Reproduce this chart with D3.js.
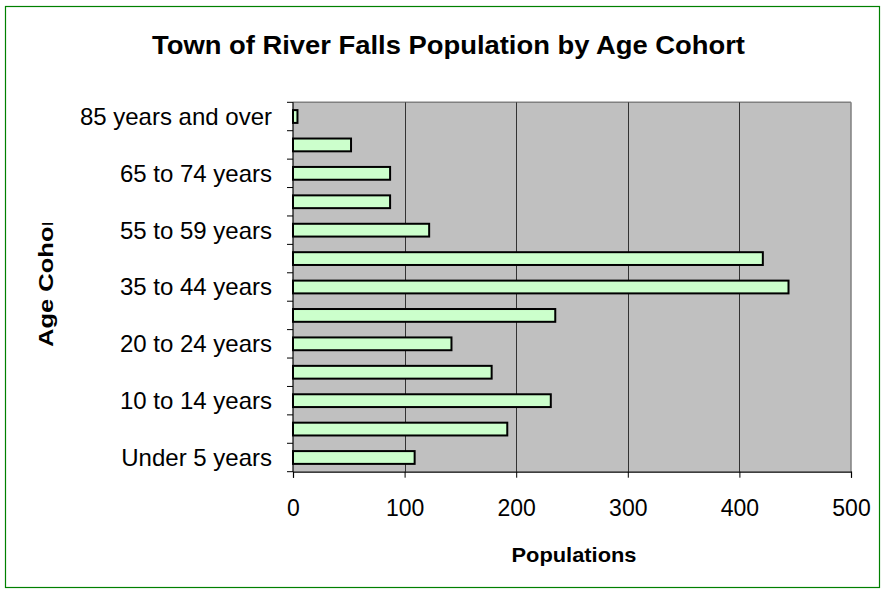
<!DOCTYPE html>
<html><head><meta charset="utf-8">
<script src="https://cdn.jsdelivr.net/npm/d3@7"></script>
<style>body{margin:0;background:#fff}svg{display:block}text{font-family:"Liberation Sans",Arial,sans-serif}</style>
</head><body><svg id="c" width="885" height="593"></svg>
<script>
const categories = ["Under 5 years","5 to 9 years","10 to 14 years","15 to 19 years","20 to 24 years","25 to 34 years","35 to 44 years","45 to 54 years","55 to 59 years","60 to 64 years","65 to 74 years","75 to 84 years","85 years and over"];
const values = [109,192,231,178,142,235,444,421,122,87,87,52,4];
const xTicks = [0,100,200,300,400,500];
const shownLabels = ["Under 5 years","10 to 14 years","20 to 24 years","35 to 44 years","55 to 59 years","65 to 74 years","85 years and over"];

const svg = d3.select("#c");
svg.append("rect").attr("x",5.5).attr("y",6.5).attr("width",874).attr("height",581)
  .attr("fill","#fff").attr("stroke","#008000").attr("stroke-width",1.2);

const L=293,R=851,T=102.3,B=471.7;
const x = d3.scaleLinear().domain([0,500]).range([L,R]);
const y = d3.scaleBand().domain(categories.slice().reverse()).range([T,B]).paddingInner(0.55).paddingOuter(0.275);

svg.append("rect").attr("x",L).attr("y",T).attr("width",R-L).attr("height",B-T).attr("fill","#c0c0c0");
svg.append("line").attr("x1",L).attr("x2",R).attr("y1",T).attr("y2",T).attr("stroke","#808080").attr("stroke-width",1.5);
svg.append("line").attr("x1",R).attr("x2",R).attr("y1",T).attr("y2",B).attr("stroke","#808080").attr("stroke-width",1.5);

svg.selectAll("line.grid").data(xTicks.slice(1,-1)).join("line").attr("class","grid")
  .attr("x1",d=>Math.round(x(d))+0.5).attr("x2",d=>Math.round(x(d))+0.5).attr("y1",T).attr("y2",B)
  .attr("stroke","#333").attr("stroke-width",1);

svg.selectAll("rect.bar").data(categories).join("rect").attr("class","bar")
  .attr("x",x(0)).attr("y",d=>y(d)).attr("height",y.bandwidth())
  .attr("width",(d,i)=>x(values[i])-x(0))
  .attr("fill","#ccffcc").attr("stroke","#000").attr("stroke-width",2);

// x axis
const xa = svg.append("g").attr("transform",`translate(0,${B})`)
  .call(d3.axisBottom(x).tickValues(xTicks).tickSize(6).tickPadding(22));
xa.select(".domain").attr("stroke","#000").attr("stroke-width",1.2);
xa.selectAll(".tick line").attr("stroke","#000");
xa.selectAll("text").attr("font-size",23).attr("fill","#000").style("font-family","'Liberation Sans',Arial,sans-serif");

// y axis: ticks at band boundaries
const step = y.step();
const bounds = d3.range(categories.length+1).map(i=>T+i*step);
svg.append("line").attr("x1",L).attr("x2",L).attr("y1",T).attr("y2",B).attr("stroke","#000").attr("stroke-width",1.2);
svg.selectAll("line.yt").data(bounds).join("line").attr("class","yt")
  .attr("x1",L-6).attr("x2",L).attr("y1",d=>d).attr("y2",d=>d).attr("stroke","#000");
svg.selectAll("text.yl").data(shownLabels).join("text").attr("class","yl")
  .attr("x",272).attr("y",d=>y(d)+y.bandwidth()/2).attr("dy","0.35em")
  .attr("text-anchor","end").attr("font-size",24).text(d=>d);

// titles
svg.append("text").attr("x",448.5).attr("y",54).attr("text-anchor","middle")
  .attr("font-size",25).attr("font-weight","bold").attr("textLength",593).attr("lengthAdjust","spacingAndGlyphs")
  .text("Town of River Falls Population by Age Cohort");
svg.append("text").attr("x",574).attr("y",562).attr("text-anchor","middle")
  .attr("font-size",21).attr("font-weight","bold").attr("textLength",125).attr("lengthAdjust","spacingAndGlyphs").text("Populations");
svg.append("clipPath").attr("id","yc").append("rect").attr("x",0).attr("y",223).attr("width",100).attr("height",200);
svg.append("g").attr("clip-path","url(#yc)")
  .append("text").attr("transform","translate(53,347) rotate(-90)")
  .attr("font-size",21).attr("font-weight","bold").attr("textLength",139).attr("lengthAdjust","spacingAndGlyphs").text("Age Cohort");
</script></body></html>
